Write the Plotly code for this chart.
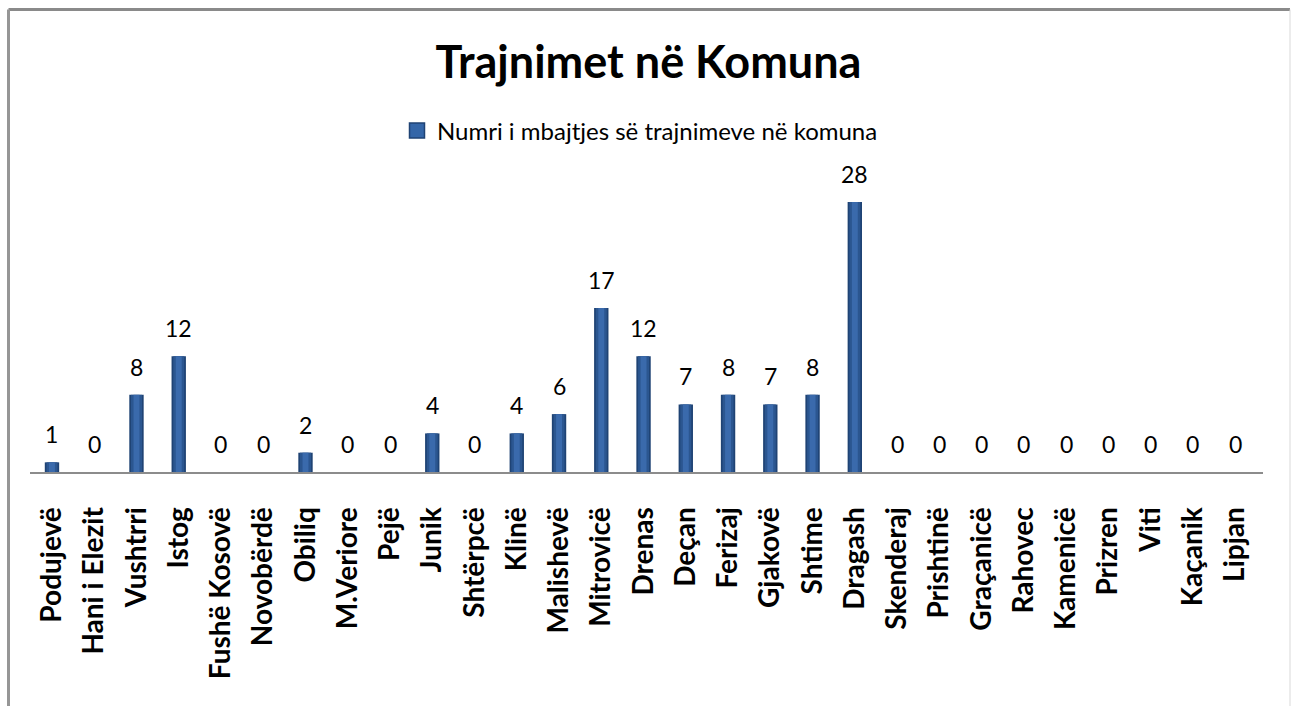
import plotly.graph_objects as go

categories = ["Podujevë", "Hani i Elezit", "Vushtrri", "Istog", "Fushë Kosovë", "Novobërdë",
              "Obiliq", "M.Veriore", "Pejë", "Junik", "Shtërpcë", "Klinë", "Malishevë",
              "Mitrovicë", "Drenas", "Deçan", "Ferizaj", "Gjakovë", "Shtime", "Dragash",
              "Skenderaj", "Prishtinë", "Graçanicë", "Rahovec", "Kamenicë", "Prizren",
              "Viti", "Kaçanik", "Lipjan"]
values = [1, 0, 8, 12, 0, 0, 2, 0, 0, 4, 0, 4, 6, 17, 12, 7, 8, 7, 8, 28,
          0, 0, 0, 0, 0, 0, 0, 0, 0]
series_name = "Numri i mbajtjes së trajnimeve në komuna"
title_text = "Trajnimet në Komuna"

W, H = 1291, 706
PL, PR, PT, PB = 30, 1263, 173, 472  # plot area pixels


def px_x(p):
    return (p - PL) / (PR - PL)


def px_y(p):
    return (PB - p) / (PB - PT)


idx = list(range(len(categories)))

fig = go.Figure()
fig.add_trace(go.Bar(
    x=idx, y=values, name=series_name, width=0.34,
    marker=dict(color="#1F4374", line=dict(width=0)),
    showlegend=False, hoverinfo="y", legendgroup="s",
))
fig.add_trace(go.Bar(
    x=idx, y=values, name=series_name, width=0.26,
    marker=dict(color="#2B5690", line=dict(width=0)),
    showlegend=False, hoverinfo="skip", legendgroup="s",
))
fig.add_trace(go.Bar(
    x=idx, y=values, name=series_name, width=0.14,
    marker=dict(color="#3A6AAC", line=dict(width=0)),
    showlegend=False, hoverinfo="skip", legendgroup="s",
))
# legend entry only (bigger square icon like the reference)
fig.add_trace(go.Scatter(
    x=[None], y=[None], mode="markers", name=series_name, legendgroup="s",
    marker=dict(symbol="square", size=15, color="#3466A8",
                line=dict(color="#1F4374", width=1.5)),
    showlegend=True, hoverinfo="skip",
))

annotations = []
for i, v in zip(idx, values):
    annotations.append(dict(
        x=i, y=v, xref="x", yref="y", text=str(v), showarrow=False,
        yanchor="bottom", yshift=12,
        font=dict(family="Lato", size=23, color="#000000"),
    ))

shapes = [
    dict(type="line", xref="paper", yref="paper",
         x0=px_x(8.5), x1=px_x(1290), y0=px_y(9.5), y1=px_y(9.5),
         line=dict(color="#8a8a8a", width=3)),
    dict(type="line", xref="paper", yref="paper",
         x0=px_x(8.5), x1=px_x(8.5), y0=px_y(9.5), y1=px_y(760),
         line=dict(color="#969696", width=3)),
    dict(type="line", xref="paper", yref="paper",
         x0=px_x(1290), x1=px_x(1290), y0=px_y(9.5), y1=px_y(760),
         line=dict(color="#d9d9d9", width=1)),
]

fig.update_layout(
    width=W, height=H,
    margin=dict(l=PL, r=W - PR, t=PT, b=H - PB, pad=0),
    paper_bgcolor="white", plot_bgcolor="white",
    barmode="overlay",
    title=dict(text=f"<b>{title_text}</b>", x=px_x(648.5), xref="paper", xanchor="center",
               y=1 - 62 / H, yref="container", yanchor="middle",
               font=dict(family="Lato", size=45, color="#000000")),
    legend=dict(orientation="h", x=px_x(640), xanchor="center", y=px_y(131), yanchor="middle",
                font=dict(family="Lato", size=24, color="#000000"),
                bgcolor="rgba(0,0,0,0)", itemwidth=30),
    xaxis=dict(
        tickmode="array", tickvals=idx, ticktext=[f"<b>{c}</b>" for c in categories],
        tickangle=-90, range=[-0.52, 28.66], showline=True, linecolor="#8c8c8c",
        linewidth=2, showgrid=False, zeroline=False, ticks="", ticklabelstandoff=22,
        tickfont=dict(family="Lato", size=28, color="#000000"),
    ),
    yaxis=dict(range=[0, 31], visible=False, showgrid=False, zeroline=False),
    annotations=annotations,
    shapes=shapes,
    font=dict(family="Lato"),
)

fig.write_html("out.html", config={"displayModeBar": False},
               post_script="document.body.style.margin='0';")
